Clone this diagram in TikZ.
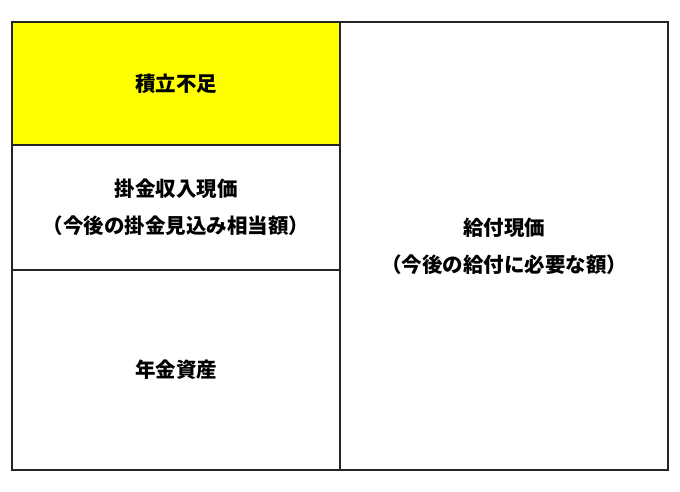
\documentclass[tikz,border=0pt]{standalone}
\usepackage{fontspec}
\newfontfamily\jpfont{Noto Sans CJK JP}
\usetikzlibrary{positioning}
\definecolor{fusokuyellow}{RGB}{255,255,0}
\begin{document}
\begin{tikzpicture}[x=1pt,y=-1pt,
  box/.style={draw=black!85,line width=1.5pt,minimum width=328pt,align=center,inner sep=0pt,outer sep=0pt,
    font=\jpfont\bfseries\fontsize{20.5}{37}\selectfont}]
\useasboundingbox (0,0) rectangle (680,492);
\node[box,fill=fusokuyellow,minimum height=123pt,anchor=north west] (fusoku) at (12,22) {積立不足};
\node[box,minimum height=125pt,below=0pt of fusoku] (kakekin) {掛金収入現価\\（今後の掛金見込み相当額）};
\node[box,minimum height=200pt,below=0pt of kakekin] (shisan) {年金資産};
\node[box,minimum height=448pt,anchor=north west] (kyufu) at (fusoku.north east) {給付現価\\（今後の給付に必要な額）};
\end{tikzpicture}
\end{document}
